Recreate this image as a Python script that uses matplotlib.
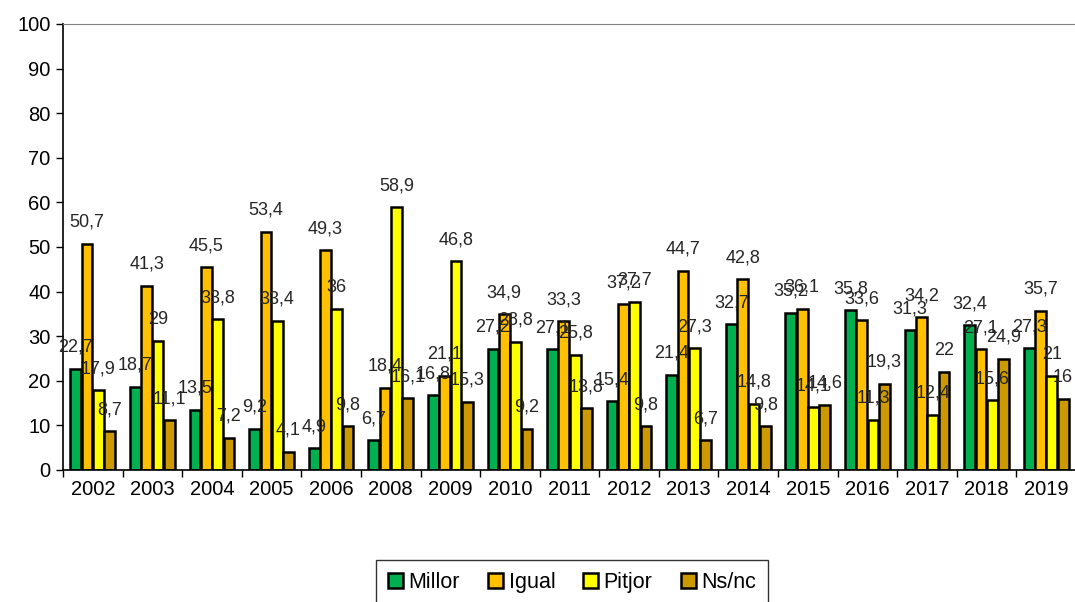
import numpy as np
import matplotlib
matplotlib.use("Agg")
import matplotlib.pyplot as plt
from matplotlib.ticker import FixedLocator

plt.rcParams['font.family'] = ['Liberation Sans', 'DejaVu Sans']

years = ['2002', '2003', '2004', '2005', '2006', '2008', '2009', '2010', '2011',
         '2012', '2013', '2014', '2015', '2016', '2017', '2018', '2019']
millor = [22.7, 18.7, 13.5, 9.2, 4.9, 6.7, 16.8, 27.2, 27.1,
          15.4, 21.4, 32.7, 35.2, 35.8, 31.3, 32.4, 27.3]
igual = [50.7, 41.3, 45.5, 53.4, 49.3, 18.4, 21.1, 34.9, 33.3,
         37.2, 44.7, 42.8, 36.1, 33.6, 34.2, 27.1, 35.7]
pitjor = [17.9, 29, 33.8, 33.4, 36, 58.9, 46.8, 28.8, 25.8,
          37.7, 27.3, 14.8, 14.1, 11.3, 12.4, 15.6, 21]
nsnc = [8.7, 11.1, 7.2, 4.1, 9.8, 16.1, 15.3, 9.2, 13.8,
        9.8, 6.7, 9.8, 14.6, 19.3, 22, 24.9, 16]

series = [('Millor', millor, '#00B050'),
          ('Igual', igual, '#FFC000'),
          ('Pitjor', pitjor, '#FFFF00'),
          ('Ns/nc', nsnc, '#CC9900')]


def fmt(v):
    # comma as decimal separator, no trailing ,0
    s = ('%g' % v)
    return s.replace('.', ',')


fig = plt.figure(figsize=(10.75, 6.02), dpi=100)
ax = fig.add_axes([0.0586, 0.2193, 0.9423, 0.7409])

x = np.arange(len(years))
width = 0.18
step = 0.19

for i, (name, vals, color) in enumerate(series):
    pos = x + (i - 1.5) * step
    bars = ax.bar(pos, vals, width, color=color, edgecolor='black',
                  linewidth=1.8, label=name, zorder=2)
    for b, v in zip(bars, vals):
        ax.annotate(fmt(v), (b.get_x() + b.get_width() / 2, v),
                    xytext=(0, 15.5), textcoords='offset points',
                    ha='center', va='center', fontsize=13, color='#262626',
                    zorder=3, annotation_clip=False)

ax.set_xlim(-0.5, len(years) - 0.5)
ax.set_ylim(0, 100)
ax.set_yticks(np.arange(0, 101, 10))
ax.tick_params(axis='y', direction='out', length=5, width=1, labelsize=14.5, pad=4)

ax.set_xticks(x)
ax.set_xticklabels(years)
ax.tick_params(axis='x', which='major', length=0, labelsize=14.5, pad=7)
ax.xaxis.set_minor_locator(FixedLocator(np.arange(-0.5, len(years), 1.0)))
ax.tick_params(axis='x', which='minor', direction='out', length=5, width=1)

ax.spines['top'].set_color('#808080')
ax.spines['right'].set_visible(False)
ax.spines['left'].set_linewidth(1.2)
ax.spines['bottom'].set_linewidth(1.2)

leg = fig.legend(loc='upper center', bbox_to_anchor=(572 / 1075, 1 - 549 / 602),
                 ncol=4, fontsize=15.5, frameon=True, fancybox=False,
                 edgecolor='black', handlelength=0.7, handleheight=0.7,
                 handletextpad=0.25, columnspacing=1.3, borderpad=0.55)
leg.get_frame().set_linewidth(1.0)

fig.savefig('out.png', dpi=100)
